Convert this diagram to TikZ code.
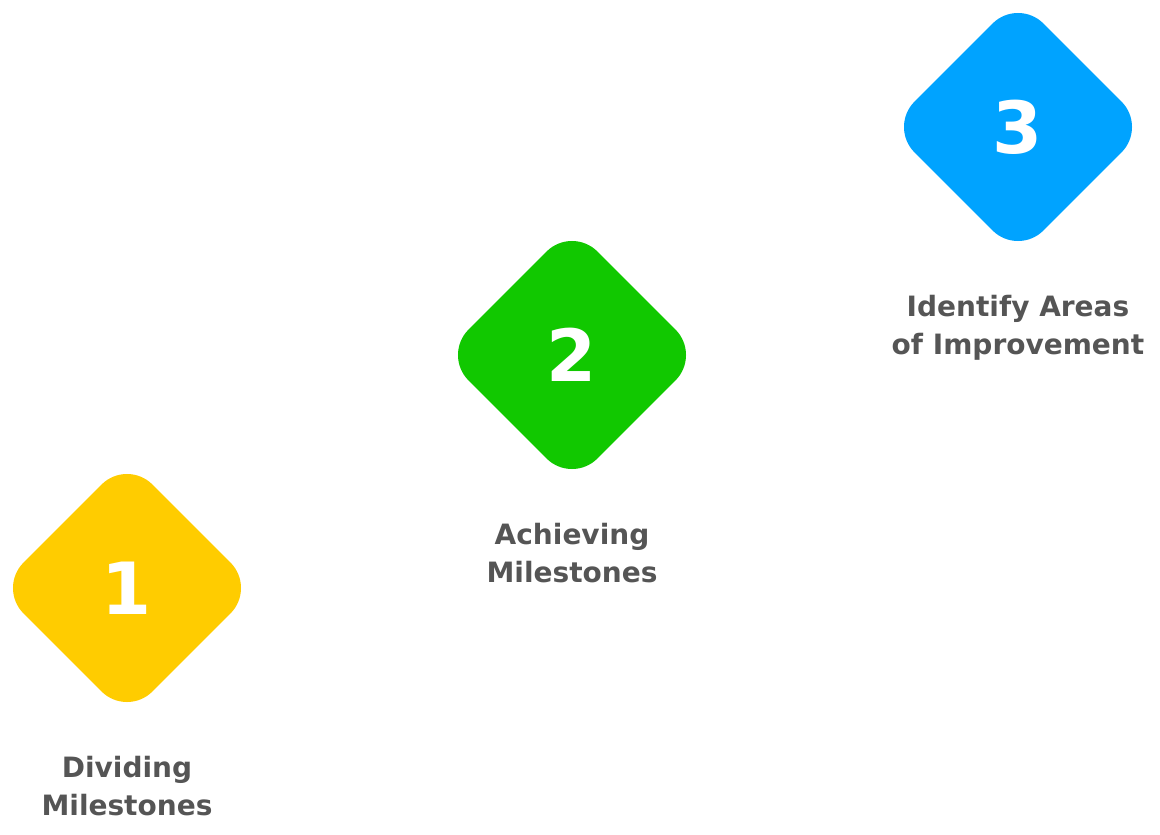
\documentclass[tikz,border=0pt]{standalone}
\usepackage{fontspec}
\setmainfont{DejaVu Sans}
\usepackage{xcolor}
\usepackage{tikz}
\usetikzlibrary{shapes.geometric, positioning}
\definecolor{figyellow}{RGB}{255,204,0}
\definecolor{figgreen}{RGB}{17,200,0}
\definecolor{figblue}{RGB}{0,163,255}
\definecolor{figtext}{RGB}{85,85,85}
\tikzstyle{stepdiamond} = [diamond, rounded corners=36pt,
minimum width=258pt, minimum height=258pt, inner sep=0pt,
text=white, font=\fontsize{72}{72}\selectfont\bfseries]
\tikzstyle{steplabel} = [align=center, inner sep=0pt,
text=figtext, font=\fontsize{28}{38}\selectfont\bfseries]

\begin{document}
\begin{tikzpicture}[x=1pt, y=1pt, node distance=39pt]
    \useasboundingbox (0,0) rectangle (1160,-835);
    \node (d1) [stepdiamond, fill=figyellow] at (127,-588) {1};
    \node (d2) [stepdiamond, fill=figgreen]  at (572,-355) {2};
    \node (d3) [stepdiamond, fill=figblue]   at (1018,-127) {3};

    \node (t1) [steplabel, below=of d1] {Dividing\\Milestones};
    \node (t2) [steplabel, below=of d2] {Achieving\\Milestones};
    \node (t3) [steplabel, below=of d3] {Identify Areas\\of Improvement};
\end{tikzpicture}
\end{document}
